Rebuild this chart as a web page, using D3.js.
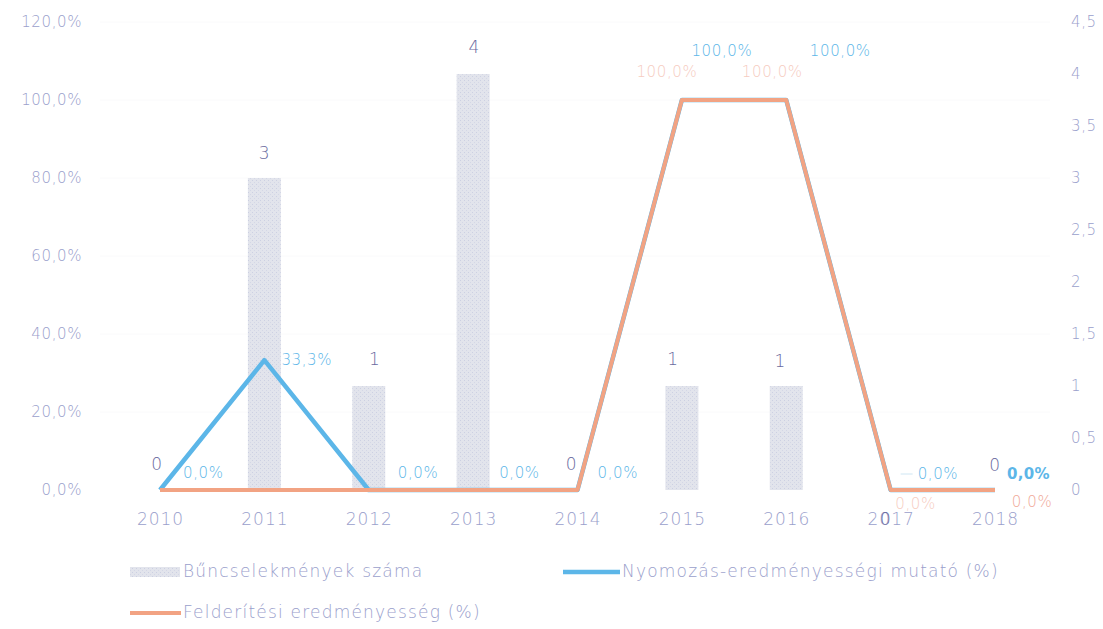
<!DOCTYPE html>
<meta charset="utf-8">
<script src="https://d3js.org/d3.v7.min.js"></script>
<style>
  body { margin: 0; background: #fff; }
  text { font-family: "DejaVu Sans", sans-serif; }
</style>
<div id="chart"></div>
<script>
// data
var years = ["2010", "2011", "2012", "2013", "2014", "2015", "2016", "2017", "2018"];
var crimes = [0, 3, 1, 4, 0, 1, 1, 0, 0];                 // Bűncselekmények száma
var nyomozas = [0, 33.3, 0, 0, 0, 100, 100, 0, 0];        // Nyomozás-eredményességi mutató (%)
var felderites = [0, 0, 0, 0, 0, 100, 100, 0, 0];         // Felderítési eredményesség (%)
var leftTicks = [0, 20, 40, 60, 80, 100, 120];
var rightTicks = [0, 0.5, 1, 1.5, 2, 2.5, 3, 3.5, 4, 4.5];
var legendNames = ["Bűncselekmények száma", "Nyomozás-eredményességi mutató (%)", "Felderítési eredményesség (%)"];

var W = 1103, H = 629;
var barColor = "#e2e4ec", blue = "#5cb6e8", orange = "#f2a383";
var axisText = "#9aa0cc", barLabel = "#6a6aa0";

var svg = d3.select("#chart").append("svg")
    .attr("width", W)
    .attr("height", H);

// dotted texture like the scanned bars
var defs = svg.append("defs");
var pat = defs.append("pattern")
    .attr("id", "dots")
    .attr("width", 4).attr("height", 4)
    .attr("patternUnits", "userSpaceOnUse");
pat.append("rect").attr("width", 4).attr("height", 4).attr("fill", barColor);
pat.append("rect").attr("x", 0).attr("y", 0).attr("width", 1).attr("height", 1).attr("fill", "#ccd0e2");
pat.append("rect").attr("x", 2).attr("y", 2).attr("width", 1).attr("height", 1).attr("fill", "#d4d7e6");

var x = d3.scalePoint().domain(years).range([160, 995]);
var yL = d3.scaleLinear().domain([0, 120]).range([490, 22]);
var yR = d3.scaleLinear().domain([0, 4.5]).range([490, 22]);

var pct = function(d) { return d.toFixed(1).replace(".", ",") + "%"; };
var comma = function(d) { return String(d).replace(".", ","); };

// gridlines, almost washed out in the scan
svg.append("g").selectAll("line")
  .data(leftTicks.slice(1))
  .enter().append("line")
    .attr("x1", 100).attr("x2", 1050)
    .attr("y1", function(d) { return yL(d); })
    .attr("y2", function(d) { return yL(d); })
    .attr("stroke", "#fafafb");

// axes
var gl = svg.append("g")
    .attr("transform", "translate(85,0)")
    .call(d3.axisLeft(yL).tickValues(leftTicks).tickFormat(pct).tickSize(0).tickPadding(3));
var gr = svg.append("g")
    .attr("transform", "translate(1068,0)")
    .call(d3.axisRight(yR).tickValues(rightTicks).tickFormat(comma).tickSize(0).tickPadding(3));
var gb = svg.append("g")
    .attr("transform", "translate(0,490)")
    .call(d3.axisBottom(x).tickSize(0).tickPadding(23));
[gl, gr, gb].forEach(function(g) {
  g.select(".domain").remove();
  g.selectAll("text")
    .attr("fill", axisText)
    .style("font-family", "DejaVu Sans")
    .style("font-weight", 300)
    .style("font-size", "15px")
    .style("letter-spacing", "0.6px");
});
gb.selectAll("text").style("font-size", "17px").style("letter-spacing", "1px");

// bars
var bw = 33;
svg.append("g").selectAll("rect")
  .data(crimes)
  .enter().append("rect")
    .attr("x", function(d, i) { return x(years[i]) - bw / 2; })
    .attr("y", function(d) { return yR(d); })
    .attr("width", bw)
    .attr("height", function(d) { return yR(0) - yR(d); })
    .attr("fill", "url(#dots)");

// lines
var line = function(vals) {
  return d3.line()
    .x(function(d, i) { return x(years[i]); })
    .y(function(d) { return yL(d); })(vals);
};
svg.append("path")
    .attr("d", line(nyomozas))
    .attr("fill", "none")
    .attr("stroke", blue)
    .attr("stroke-width", 4.5)
    .attr("stroke-linejoin", "round");
svg.append("path")
    .attr("d", line(felderites))
    .attr("fill", "none")
    .attr("stroke", orange)
    .attr("stroke-width", 4)
    .attr("stroke-linejoin", "round");

function lbl(px, py, txt, color, anchor) {
  return svg.append("text")
      .attr("x", px).attr("y", py)
      .attr("text-anchor", anchor)
      .attr("dominant-baseline", "middle")
      .attr("fill", color)
      .style("font-size", "15px")
      .style("font-weight", 300)
      .style("letter-spacing", "0.6px")
      .text(txt);
}

// bar value labels (offsets follow the reference)
var barShift = [[-3, -25], [0, -24], [6, -26], [1, -26], [-6, -25], [-9, -26], [-6, -24], [-5, 30], [0, -24]];
crimes.forEach(function(d, i) {
  lbl(x(years[i]) + barShift[i][0], yR(d) + barShift[i][1], String(d), barLabel, "middle")
    .style("font-size", "17px");
});

// blue labels
var blueShift = [[23, -17, "start"], [17, 0, "start"], [29, -17, "start"], [26, -17, "start"], [20, -17, "start"],
                 [40, -49, "middle"], [54, -49, "middle"], [27, -16, "start"], [12, -16, "start"]];
nyomozas.forEach(function(d, i) {
  var s = blueShift[i];
  var t = lbl(x(years[i]) + s[0], yL(d) + s[1], pct(d), blue, s[2]);
  if (i === 8) t.style("font-weight", "bold").style("letter-spacing", "0.3px");
});
// leader dash for 2017 label
svg.append("line")
    .attr("x1", x("2017") + 10).attr("x2", x("2017") + 22)
    .attr("y1", yL(0) - 16).attr("y2", yL(0) - 16)
    .attr("stroke", "#cfe6f3").attr("stroke-width", 1);

// orange labels (only those visible in the reference)
var orangeShift = {5: [-15, -28], 6: [-14, -28], 7: [25, 14], 8: [37, 12]};
felderites.forEach(function(d, i) {
  if (!orangeShift[i]) return;
  var s = orangeShift[i];
  lbl(x(years[i]) + s[0], yL(d) + s[1], pct(d), i === 8 ? "#f0a898" : "#f6ccbf", "middle");
});

// legend
var lg = svg.append("g");
lg.append("rect").attr("x", 130).attr("y", 567).attr("width", 50).attr("height", 10).attr("fill", "url(#dots)");
lg.append("line").attr("x1", 563).attr("x2", 620).attr("y1", 572).attr("y2", 572)
    .attr("stroke", blue).attr("stroke-width", 4.5);
lg.append("line").attr("x1", 130).attr("x2", 181).attr("y1", 613).attr("y2", 613)
    .attr("stroke", orange).attr("stroke-width", 4);
[[183, 572], [622, 572], [183, 613]].forEach(function(p, i) {
  lg.append("text")
      .attr("x", p[0]).attr("y", p[1])
      .attr("dominant-baseline", "middle")
      .attr("fill", axisText)
      .style("font-size", "17px")
      .style("font-weight", 300)
      .style("letter-spacing", "1.2px")
      .text(legendNames[i]);
});
</script>
